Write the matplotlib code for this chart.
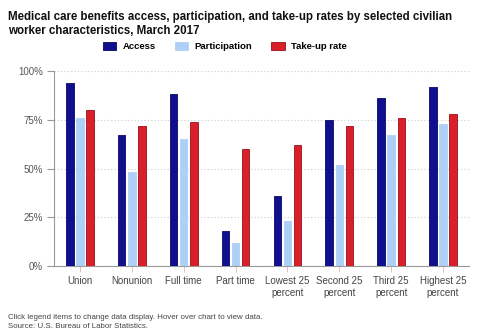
import matplotlib
matplotlib.use("Agg")
import matplotlib.pyplot as plt
import numpy as np
from matplotlib.patches import Patch

categories = ["Union", "Nonunion", "Full time", "Part time", "Lowest 25\npercent",
              "Second 25\npercent", "Third 25\npercent", "Highest 25\npercent"]
access = [94, 67, 88, 18, 36, 75, 86, 92]
participation = [76, 48, 65, 12, 23, 52, 67, 73]
takeup = [80, 72, 74, 60, 62, 72, 76, 78]
series_names = ["Access", "Participation", "Take-up rate"]
yticks = [0, 25, 50, 75, 100]
ytick_labels = ["0%", "25%", "50%", "75%", "100%"]

colors = ["#0f0f8f", "#aed0f7", "#d91f2a"]
edges = ["#080860", "#aed0f7", "#9a1018"]

plt.rcParams['font.family'] = ['Liberation Sans', 'DejaVu Sans']

fig = plt.figure(figsize=(5, 3.36), dpi=100)
ax = fig.add_axes([0.108, 0.208, 0.83, 0.581])

x = np.arange(len(categories))
w = 0.145
off = 0.195
for i, vals in enumerate([access, participation, takeup]):
    ax.bar(x + (i - 1) * off, vals, width=w, color=colors[i], edgecolor=edges[i],
           linewidth=0.6, zorder=3)

ax.set_xlim(-0.5, len(categories) - 0.5)
ax.set_ylim(0, 100)
ax.set_yticks(yticks)
ax.set_yticklabels(ytick_labels)
ax.set_xticks(x)
ax.set_xticklabels(categories, linespacing=1.25)
ax.tick_params(axis='y', length=5, color="#999999", labelcolor="#555555", labelsize=7, pad=3, width=0.8)
ax.tick_params(axis='x', length=4, color="#f0b0b0", labelcolor="#444444", labelsize=7, pad=3, width=0.6)
ax.grid(axis='y', linestyle=(0, (1, 2)), color="#cccccc", linewidth=0.8, zorder=0)
for s in ["top", "right"]:
    ax.spines[s].set_visible(False)
ax.spines["left"].set_color("#999999")
ax.spines["bottom"].set_color("#999999")
ax.spines["left"].set_linewidth(0.8)
ax.spines["bottom"].set_linewidth(0.8)

fig.text(0.016, 0.968, "Medical care benefits access, participation, and take-up rates by selected civilian\nworker characteristics, March 2017",
         fontsize=8.3, fontweight='bold', va='top', ha='left', color="#111111", linespacing=1.2)

handles = [Patch(facecolor=colors[i], edgecolor=edges[i], linewidth=0.6) for i in range(3)]
fig.legend(handles, series_names, loc='center', bbox_to_anchor=(0.45, 0.862), ncol=3,
           frameon=False, handlelength=1.4, handleheight=0.9, columnspacing=2.0,
           handletextpad=0.7, prop={'weight': 'bold', 'size': 6.8})

fig.text(0.016, 0.018, "Click legend items to change data display. Hover over chart to view data.\nSource: U.S. Bureau of Labor Statistics.",
         fontsize=5.7, va='bottom', ha='left', color="#444444", linespacing=1.4)

fig.savefig("out.png", dpi=100)
